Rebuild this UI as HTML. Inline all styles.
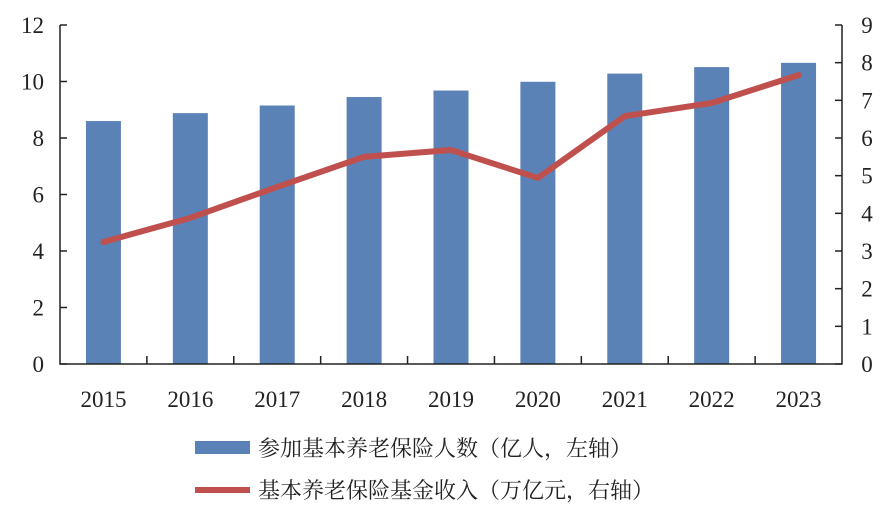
<!DOCTYPE html>
<html><head><meta charset="utf-8"><style>
body{margin:0;background:#fff}
svg{display:block;font-family:"Liberation Serif","Noto Serif CJK SC",serif}
</style></head><body>
<svg id="chart" width="888" height="507" viewBox="0 0 888 507" xmlns="http://www.w3.org/2000/svg"></svg>
<script>
const categories=["2015","2016","2017","2018","2019","2020","2021","2022","2023"];
const participants=[8.6,8.88,9.15,9.45,9.68,9.99,10.28,10.51,10.66];
const fundIncome=[3.24,3.88,4.70,5.50,5.68,4.94,6.58,6.93,7.67];
const leftTicks=[0,2,4,6,8,10,12];
const rightTicks=[0,1,2,3,4,5,6,7,8,9];
const NS="http://www.w3.org/2000/svg";
const svg=document.getElementById('chart');
const X0=60,X1=842,Y0=364,Y1=25;
const bw=(X1-X0)/categories.length;
const yL=v=>Y0-(v/12)*(Y0-Y1);
const yR=v=>Y0-(v/9)*(Y0-Y1);
const xc=i=>X0+bw*(i+0.5);
function mk(t,a,p){const e=document.createElementNS(NS,t);for(const k in a)e.setAttribute(k,a[k]);(p||svg).appendChild(e);return e;}
categories.forEach((c,i)=>{
 const r=mk('rect',{x:xc(i)-17.5,y:yL(participants[i]),width:35,height:Y0-yL(participants[i]),fill:'#5b82b6'});
 
 
});
const pts=fundIncome.map((v,i)=>xc(i)+','+yR(v)).join(' ');
const line=mk('polyline',{points:pts,fill:'none',stroke:'#c0504d','stroke-width':6,'stroke-linejoin':'round','stroke-linecap':'round'});


const ax=mk('path',{d:`M${X0} ${Y1}V${Y0}H${X1}V${Y1}`,fill:'none',stroke:'#222','stroke-width':1.5});


leftTicks.forEach(v=>{
 mk('line',{x1:X0,x2:X0+7,y1:yL(v),y2:yL(v),stroke:'#222','stroke-width':1.5});
 const t=mk('text',{x:X0-16,y:yL(v)+8,'text-anchor':'end','font-size':23,fill:'#222'});t.textContent=v;
 
 
});
rightTicks.forEach(v=>{
 mk('line',{x1:X1-7,x2:X1,y1:yR(v),y2:yR(v),stroke:'#222','stroke-width':1.5});
 const t=mk('text',{x:X1+25,y:yR(v)+8,'text-anchor':'middle','font-size':23,fill:'#222'});t.textContent=v;
 
 
});
categories.forEach((c,i)=>{
 if(i>0)mk('line',{x1:X0+bw*i,x2:X0+bw*i,y1:Y0,y2:Y0-8,stroke:'#222','stroke-width':1.5});
 const t=mk('text',{x:xc(i),y:407,'text-anchor':'middle','font-size':23,fill:'#222'});t.textContent=c;
 
 
});
const g1=mk('g',{});


mk('rect',{x:195,y:441,width:55,height:13,fill:'#5b82b6'},g1);
const t1=mk('text',{x:258,y:456,'font-size':22,fill:'#222'},g1);t1.textContent='参加基本养老保险人数（亿人，左轴）';
const g2=mk('g',{});


mk('line',{x1:195,x2:250,y1:490,y2:490,stroke:'#c0504d','stroke-width':6},g2);
const t2=mk('text',{x:258,y:498,'font-size':22,fill:'#222'},g2);t2.textContent='基本养老保险基金收入（万亿元，右轴）';
</script>
</body></html>
